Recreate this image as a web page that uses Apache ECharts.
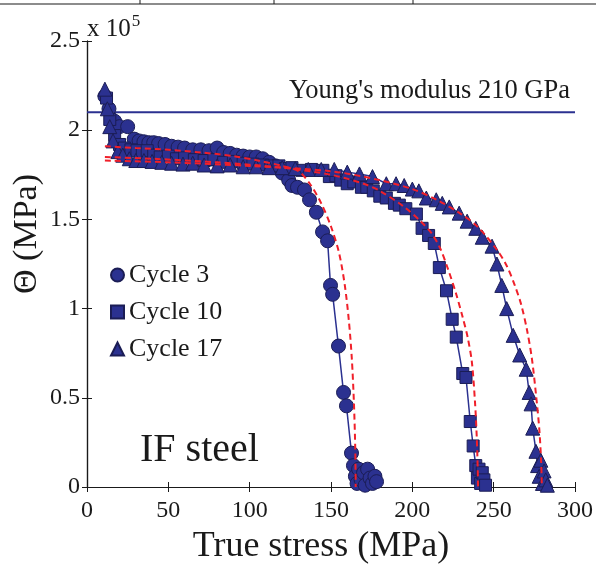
<!DOCTYPE html>
<html><head><meta charset="utf-8">
<script src="https://cdn.jsdelivr.net/npm/echarts@6/dist/echarts.min.js"></script>
<style>html,body{margin:0;padding:0;background:#fff}#c{width:596px;height:570px}</style>
</head><body><div id="c"></div>
<script>
// Theta values in units of 1e5 MPa, stress in MPa
var cycle3 = [[11,2.19],[13.5,2.12],[17,2.05],[20,2.02],[25,2.02],[29,1.95],[32,1.94],[35,1.935],[38,1.93],[41,1.93],[44,1.925],[48,1.92],[52,1.91],[56,1.905],[60,1.90],[65,1.89],[70,1.89],[75,1.885],[80,1.90],[84,1.875],[88,1.87],[92,1.86],[96,1.855],[100,1.85],[104,1.85],[108,1.84],[112,1.82],[116,1.80],[120,1.76],[124,1.72],[126,1.69],[129.4,1.68],[133.7,1.665],[136.8,1.61],[141,1.54],[144.8,1.43],[147.9,1.38],[149.7,1.13],[151,1.08],[154.6,0.79],[157.7,0.53],[159.5,0.455],[162.6,0.19],[163.8,0.12],[165,0.06],[166,0.02],[167,0.1],[168.5,0.04],[170,0.08],[171,0.01],[172.5,0.1],[174,0.05],[175.5,0.02],[177,0.06],[178,0.03]];
var cycle10 = [[12,2.18],[14,2.06],[17,1.97],[20,1.92],[23,1.90],[27,1.89],[30.7,1.885],[34,1.87],[37,1.885],[41,1.86],[45,1.85],[50,1.855],[55,1.84],[60,1.845],[66,1.835],[72,1.83],[78,1.835],[84,1.82],[90,1.825],[96,1.815],[102,1.81],[108,1.805],[113,1.80],[118,1.80],[122,1.785],[126,1.79],[132,1.775],[138,1.78],[145,1.775],[149,1.74],[153,1.745],[156,1.72],[160,1.70],[164,1.71],[168.7,1.68],[172,1.68],[176,1.66],[180,1.63],[184,1.62],[189,1.59],[192,1.58],[196,1.56],[202.5,1.53],[206,1.45],[210,1.41],[213.5,1.365],[216.6,1.23],[221,1.10],[224.5,0.94],[227,0.84],[231,0.636],[233,0.614],[235.6,0.367],[237.4,0.23],[239,0.12],[240,0.05],[241,0.1],[242,0.02],[243,0.08],[244,0.04],[245,0.01]];
var cycle17 = [[11,2.23],[12.5,2.12],[14,2.02],[16,1.94],[19,1.88],[22,1.86],[26,1.84],[30,1.83],[35,1.83],[40,1.825],[46,1.82],[52,1.815],[59,1.81],[65,1.815],[72,1.805],[80,1.80],[88,1.805],[96,1.795],[104,1.795],[112,1.79],[120,1.79],[128,1.785],[136,1.78],[144,1.78],[152,1.78],[160,1.765],[167.5,1.755],[175.5,1.74],[184,1.70],[190,1.70],[195,1.69],[200,1.67],[204,1.66],[208.6,1.62],[214.7,1.61],[218.4,1.59],[222.7,1.57],[228.8,1.535],[233.7,1.49],[239,1.45],[243,1.40],[249,1.35],[252,1.25],[255,1.13],[258,1.0],[262,0.85],[266,0.74],[270,0.66],[271.8,0.53],[273,0.466],[274,0.33],[276,0.2],[277,0.12],[278,0.06],[279,0.15],[280,0.02],[281,0.09],[282,0.04],[283,0.01]];
var fit3 = [[11,1.91],[30,1.90],[50,1.89],[70,1.875],[90,1.855],[105,1.83],[120,1.80],[130,1.77],[137,1.70],[144,1.59],[150,1.46],[155,1.31],[158.5,1.13],[161,0.93],[162.8,0.72],[164.1,0.47],[164.9,0.22],[165.2,0]];
var fit10 = [[11,1.85],[40,1.84],[80,1.82],[120,1.79],[150,1.75],[170,1.70],[180,1.66],[195,1.57],[205,1.49],[212,1.42],[217,1.34],[222,1.22],[227,1.08],[231,0.95],[234,0.84],[236.6,0.70],[238.5,0.48],[239.6,0.28],[240.2,0.1],[240.4,0]];
var fit17 = [[11,1.83],[50,1.82],[100,1.80],[150,1.77],[180,1.72],[200,1.67],[215,1.61],[230,1.53],[240,1.46],[252,1.33],[258,1.24],[263,1.13],[267,1.02],[270.5,0.88],[273.5,0.72],[276,0.52],[278,0.33],[279.2,0.14],[279.6,0]];
var youngs = [[0,2.1],[300,2.1]];
var xTicks = [0,50,100,150,200,250,300];
var yTicks = [0,0.5,1,1.5,2,2.5];

var F = 'Liberation Serif, Times New Roman, serif';
var BLUE = '#2b3190', EDGE = '#1b1d55', RED = '#f0202a', INK = '#1a1a1a';
function marks(name, data, sym, size){
  return {name:name, type:'line', data:data, symbol:sym, symbolSize:size, showSymbol:true,
    lineStyle:{color:BLUE,width:1.5}, itemStyle:{color:BLUE,borderColor:EDGE,borderWidth:1}, z:3};
}
function fit(data){
  return {type:'line', data:data, symbol:'none', smooth:0.3, lineStyle:{color:RED,width:2,type:[6,4]}, z:4, silent:true};
}
var chart = echarts.init(document.getElementById('c'));
chart.setOption({
  animation:false,
  grid:{left:87,top:41,width:489,height:456},
  legend:{left:105,top:257,orient:'vertical',itemGap:11,itemWidth:13,itemHeight:13,
    textStyle:{fontFamily:F,fontSize:26,color:INK},
    data:[{name:'Cycle 3',icon:'circle'},{name:'Cycle 10',icon:'rect'},{name:'Cycle 17',icon:'triangle'}]},
  xAxis:[{type:'value',min:0,max:300,interval:50,name:'True stress (MPa)',nameLocation:'middle',nameGap:42,
    nameTextStyle:{fontFamily:F,fontSize:36,color:INK,padding:[0,20,0,0]},
    axisLine:{lineStyle:{color:INK,width:1.2}},axisTick:{inside:true,length:5,lineStyle:{color:INK}},
    axisLabel:{fontFamily:F,fontSize:24,color:INK,margin:12},splitLine:{show:false}},
    {type:'value',min:0,max:300,interval:50,position:'top',axisLine:{lineStyle:{color:INK,width:1.2}},
    axisTick:{inside:true,length:5,lineStyle:{color:INK}},axisLabel:{show:false},splitLine:{show:false}}],
  yAxis:[{type:'value',min:0,max:2.5,interval:0.5,
    axisLine:{lineStyle:{color:INK,width:1.2}},axisTick:{inside:true,length:5,lineStyle:{color:INK}},
    axisLabel:{fontFamily:F,fontSize:24,color:INK,margin:7,formatter:function(v){return String(v);}},splitLine:{show:false}},
    {type:'value',min:0,max:2.5,interval:0.5,position:'right',axisLine:{lineStyle:{color:INK,width:1.2}},
    axisTick:{inside:true,length:5,lineStyle:{color:INK}},axisLabel:{show:false},splitLine:{show:false}}],
  graphic:[
    {type:'text',x:27,y:234,rotation:Math.PI/2,style:{text:'\u0398 (MPa)',fontFamily:F,fontSize:34,fill:INK,align:'center',verticalAlign:'middle'}},
    {type:'text',left:87,top:13,style:{rich:{a:{fontFamily:F,fontSize:25,fill:INK},b:{fontFamily:F,fontSize:17,fill:INK,verticalAlign:'top',padding:[0,0,15,1]}},text:'{a|x 10}{b|5}'}},
    {type:'text',left:140,top:430,style:{text:'IF steel',fontFamily:F,fontSize:40,fill:INK}},
    {type:'text',right:26,top:78,style:{text:"Young's modulus 210 GPa",fontFamily:F,fontSize:26.5,fill:INK}},
    {type:'line',shape:{x1:0,y1:4,x2:596,y2:4},style:{stroke:INK,lineWidth:1.2}},
    {type:'line',shape:{x1:140,y1:0,x2:140,y2:4},style:{stroke:INK,lineWidth:1}},
    {type:'line',shape:{x1:274,y1:0,x2:274,y2:4},style:{stroke:INK,lineWidth:1}},
    {type:'line',shape:{x1:413,y1:0,x2:413,y2:4},style:{stroke:INK,lineWidth:1}}
  ],
  series:[
    {type:'line',data:youngs,symbol:'none',lineStyle:{color:BLUE,width:2},z:2,silent:true},
    marks('Cycle 3',cycle3,'circle',14),
    marks('Cycle 10',cycle10,'rect',12),
    marks('Cycle 17',cycle17,'triangle',14),
    fit(fit3),fit(fit10),fit(fit17)
  ]
});
</script></body></html>
